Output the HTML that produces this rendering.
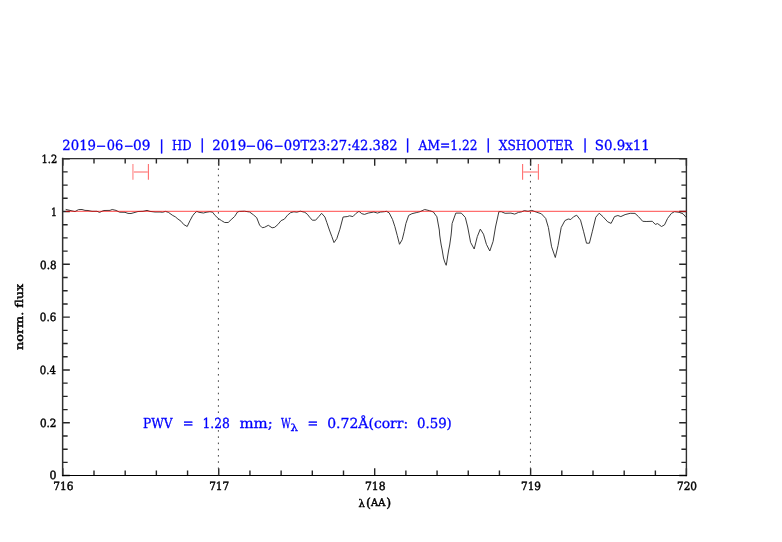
<!DOCTYPE html>
<html><head><meta charset="utf-8"><title>PWV plot</title>
<style>
html,body{margin:0;padding:0;background:#fff;}
body{width:782px;height:542px;overflow:hidden;}
svg{display:block;will-change:transform;}
</style></head>
<body>
<svg width="782" height="542" viewBox="0 0 782 542" text-rendering="geometricPrecision">
<rect width="782" height="542" fill="#fff"/>
<!-- frame + ticks -->
<path d="M62.81 475.5V468.3M62.81 158.6V165.8M94 475.5V470.5M94 158.6V163.6M125.19 475.5V470.5M125.19 158.6V163.6M156.37 475.5V470.5M156.37 158.6V163.6M187.56 475.5V470.5M187.56 158.6V163.6M218.75 475.5V468.3M218.75 158.6V165.8M249.94 475.5V470.5M249.94 158.6V163.6M281.13 475.5V470.5M281.13 158.6V163.6M312.31 475.5V470.5M312.31 158.6V163.6M343.5 475.5V470.5M343.5 158.6V163.6M374.69 475.5V468.3M374.69 158.6V165.8M405.88 475.5V470.5M405.88 158.6V163.6M437.07 475.5V470.5M437.07 158.6V163.6M468.25 475.5V470.5M468.25 158.6V163.6M499.44 475.5V470.5M499.44 158.6V163.6M530.63 475.5V468.3M530.63 158.6V165.8M561.82 475.5V470.5M561.82 158.6V163.6M593.01 475.5V470.5M593.01 158.6V163.6M624.19 475.5V470.5M624.19 158.6V163.6M655.38 475.5V470.5M655.38 158.6V163.6M686.4 475.5V468.3M686.4 158.6V165.8M62.65 475.5H69.85M686.4 475.5H679.2M62.65 462.4H67.65M686.4 462.4H681.4M62.65 449.19H67.65M686.4 449.19H681.4M62.65 435.99H67.65M686.4 435.99H681.4M62.65 422.78H69.85M686.4 422.78H679.2M62.65 409.58H67.65M686.4 409.58H681.4M62.65 396.37H67.65M686.4 396.37H681.4M62.65 383.17H67.65M686.4 383.17H681.4M62.65 369.96H69.85M686.4 369.96H679.2M62.65 356.75H67.65M686.4 356.75H681.4M62.65 343.55H67.65M686.4 343.55H681.4M62.65 330.35H67.65M686.4 330.35H681.4M62.65 317.14H69.85M686.4 317.14H679.2M62.65 303.94H67.65M686.4 303.94H681.4M62.65 290.73H67.65M686.4 290.73H681.4M62.65 277.52H67.65M686.4 277.52H681.4M62.65 264.32H69.85M686.4 264.32H679.2M62.65 251.11H67.65M686.4 251.11H681.4M62.65 237.91H67.65M686.4 237.91H681.4M62.65 224.7H67.65M686.4 224.7H681.4M62.65 211.5H69.85M686.4 211.5H679.2M62.65 198.29H67.65M686.4 198.29H681.4M62.65 185.09H67.65M686.4 185.09H681.4M62.65 171.88H67.65M686.4 171.88H681.4M62.65 158.68H69.85M686.4 158.68H679.2" stroke="#262626" stroke-width="1.4" fill="none"/>
<g fill="none" stroke-linecap="square">
<path d="M62.65 158.6H686.4" stroke="#303030" stroke-width="1.4"/>
<path d="M62.65 158.6V475.5" stroke="#303030" stroke-width="1.5"/>
<path d="M686.4 158.6V475.5" stroke="#303030" stroke-width="1.4"/>
<path d="M62.65 475.5H686.4" stroke="#000" stroke-width="1.2"/>
</g>
<!-- dotted reference lines -->
<path d="M218.4 158.6V475.5M530.45 158.6V475.5" stroke="#444" stroke-width="1" stroke-dasharray="1.6 4.63" stroke-dashoffset="-3.6" fill="none"/>
<!-- spectrum -->
<polyline points="65.7,209.4 70,210.4 75,211.6 78.5,209.6 82,209.5 85,210.4 88,210.5 92,211.3 97,211.3 99.6,212.4 102,211.2 104,210.5 110,210.4 112.2,209.5 116,210.4 119.6,212.2 125,212.3 128,213.4 131,213.5 135,212.4 138,211.5 143,211.3 147,210.4 150,211.4 155,212 160,212 162.6,212.3 165.4,211.4 168.3,212.3 172.8,215.5 175.3,216.8 177.9,219 181.1,221.3 183.7,224.5 187.2,226.5 190,220.6 192.6,215.8 194.8,213 196.8,211.4 199,212.3 203.5,213 206,212.3 209.9,211.7 212.6,212.2 215.1,215.5 218.3,218.4 221.5,220.6 224.7,222.5 228.2,222.5 231.1,219.7 234.6,216.5 237.5,212 239.4,211.4 244.5,211.2 249.6,212 253.5,214.9 256.7,217.7 259.6,225.1 262.2,227.7 264.5,227.3 268.3,225.3 272.1,227.8 274.7,227.3 277.9,224.5 281.1,220.6 284.3,219.2 287.5,215.2 290.7,212.6 293.9,211.8 296.8,212.2 300.3,211.2 304.8,212.3 307.3,214.2 309.6,217.1 312.3,220.2 315.6,220.2 318.8,216.6 321.6,213.3 324.9,217 326.9,222.7 329.4,230 331.8,236.5 334,242.6 336.8,238.6 339.9,229.2 343.1,217 347.2,216.6 349.6,215.8 352.9,216.6 356.1,213.3 359,211.3 361.8,213.7 364.5,214.4 368.1,213.1 373.8,212 377.5,213.1 380.3,212.1 384.4,211.7 386.4,211.3 389.2,212.9 392.5,219.4 394.9,226.7 397.3,235.7 399.5,244.3 402.2,239.7 404.2,231.6 405.9,223.5 408.7,215.4 411.9,213.7 416.8,212.5 420,211.7 424.7,209.5 429.6,210.7 433.3,211.9 436.9,216.8 439.3,230 439.7,235 440.4,240 441.2,245 442.2,250 443.5,258 444.8,262.2 446.2,265.3 446.8,262 447.7,256 448.7,250 449.7,245 450.4,240 451.1,235 451.6,230 452.1,223.5 455.8,213.1 461.3,213.1 465.3,217.4 467.7,227 470.6,242.4 474.2,249 477.3,236.6 480.3,229.1 483.5,234.2 486.4,244.3 489.8,251 493.1,241.4 495.5,227 498.9,211.7 501.3,211.7 505.1,213.3 510.9,213.1 514.7,214.1 518.5,212.4 521.4,211.9 524.3,210.6 528,211.3 531.8,210.4 536.1,212 541.4,213.8 545.7,218.4 548.4,227.5 551.6,246.8 555.3,257.5 558,245.7 561.2,227.5 564.9,220.6 568.2,219 570.8,219.5 573.5,216.8 576.7,215.2 580.5,220.1 583.5,231.2 586.5,243.2 589.4,243.2 592.4,231.2 595.8,217.2 599.2,213.2 603,216.7 607.7,221.8 611.1,223.4 614.5,216.6 617.9,215.5 620.8,216.6 625.1,214.6 630.2,213.3 635,213.4 638.4,216.5 642.7,221.3 646.1,221.5 652.3,221.3 655.3,224.4 657.6,223.6 661.5,226.5 664.5,224.9 667.6,218.4 671.4,213.4 674.5,211.7 679.1,212.3 683,213.8 686.4,217.7" stroke="#303030" stroke-width="0.95" fill="none" stroke-linejoin="round"/>
<!-- unity line -->
<path d="M65.7 211.45H686.4" stroke="#ff0000" stroke-opacity="0.57" stroke-width="1.3" fill="none"/>
<!-- red markers -->
<g fill="none">
<path d="M132.9 164.1V179.8" stroke="#ffaaaa" stroke-width="1.6"/>
<path d="M148.4 164.1V179.8M522.6 164.1V179.8M538.4 164.1V179.8" stroke="#ff6e6e" stroke-width="1.1"/>
<path d="M133.6 172H147.9M523.1 172H537.9" stroke="#ffb0b0" stroke-width="1.8"/>
</g>
<g font-family="&quot;DejaVu Serif&quot;, &quot;Liberation Serif&quot;, serif">
<text x="62.34" y="150.30" font-size="13.80px" fill="#0000ff" textLength="33.74" lengthAdjust="spacingAndGlyphs" stroke="#0000ff" stroke-width="0.3">2019</text><text x="95.90" y="149.94" font-size="13.80px" fill="#0000ff" textLength="10.16" lengthAdjust="spacingAndGlyphs" stroke="#0000ff" stroke-width="0.3">-</text><text x="106.65" y="150.30" font-size="13.80px" fill="#0000ff" textLength="16.48" lengthAdjust="spacingAndGlyphs" stroke="#0000ff" stroke-width="0.3">06</text><text x="123.93" y="149.94" font-size="13.80px" fill="#0000ff" textLength="9.48" lengthAdjust="spacingAndGlyphs" stroke="#0000ff" stroke-width="0.3">-</text><text x="133.05" y="150.30" font-size="13.80px" fill="#0000ff" textLength="17.45" lengthAdjust="spacingAndGlyphs" stroke="#0000ff" stroke-width="0.3">09</text>
<text x="159.21" y="149.53" font-size="13.80px" fill="#0000ff" stroke="#0000ff" stroke-width="0.3">|</text>
<text x="172.06" y="150.30" font-size="13.80px" fill="#0000ff" textLength="19.48" lengthAdjust="spacingAndGlyphs" stroke="#0000ff" stroke-width="0.3">HD</text>
<text x="199.94" y="149.30" font-size="13.80px" fill="#0000ff" stroke="#0000ff" stroke-width="0.3">|</text>
<text x="212.27" y="150.30" font-size="13.80px" fill="#0000ff" textLength="34.07" lengthAdjust="spacingAndGlyphs" stroke="#0000ff" stroke-width="0.3">2019</text><text x="245.78" y="149.94" font-size="13.80px" fill="#0000ff" textLength="10.31" lengthAdjust="spacingAndGlyphs" stroke="#0000ff" stroke-width="0.3">-</text><text x="256.41" y="150.30" font-size="13.80px" fill="#0000ff" textLength="16.92" lengthAdjust="spacingAndGlyphs" stroke="#0000ff" stroke-width="0.3">06</text><text x="273.69" y="149.94" font-size="13.80px" fill="#0000ff" textLength="9.74" lengthAdjust="spacingAndGlyphs" stroke="#0000ff" stroke-width="0.3">-</text><text x="283.78" y="150.30" font-size="13.80px" fill="#0000ff" textLength="113.97" lengthAdjust="spacingAndGlyphs" stroke="#0000ff" stroke-width="0.3">09T23:27:42.382</text>
<text x="405.18" y="149.43" font-size="13.80px" fill="#0000ff" stroke="#0000ff" stroke-width="0.3">|</text>
<text x="418.59" y="150.30" font-size="13.80px" fill="#0000ff" textLength="58.88" lengthAdjust="spacingAndGlyphs" stroke="#0000ff" stroke-width="0.3">AM=1.22</text>
<text x="485.94" y="149.30" font-size="13.80px" fill="#0000ff" stroke="#0000ff" stroke-width="0.3">|</text>
<text x="498.75" y="150.30" font-size="13.80px" fill="#0000ff" textLength="74.23" lengthAdjust="spacingAndGlyphs" stroke="#0000ff" stroke-width="0.3">XSHOOTER</text>
<text x="582.87" y="149.33" font-size="13.80px" fill="#0000ff" stroke="#0000ff" stroke-width="0.3">|</text>
<text x="594.78" y="150.30" font-size="13.80px" fill="#0000ff" textLength="54.96" lengthAdjust="spacingAndGlyphs" stroke="#0000ff" stroke-width="0.3">S0.9x11</text>
<text x="142.92" y="427.50" font-size="13.80px" fill="#0000ff" textLength="29.61" lengthAdjust="spacingAndGlyphs" stroke="#0000ff" stroke-width="0.3">PWV</text>
<text x="182.69" y="427.50" font-size="13.80px" fill="#0000ff" textLength="10.85" lengthAdjust="spacingAndGlyphs" stroke="#0000ff" stroke-width="0.3">=</text>
<text x="202.49" y="427.50" font-size="13.80px" fill="#0000ff" textLength="27.47" lengthAdjust="spacingAndGlyphs" stroke="#0000ff" stroke-width="0.3">1.28</text>
<text x="239.43" y="427.50" font-size="13.80px" fill="#0000ff" textLength="33.41" lengthAdjust="spacingAndGlyphs" stroke="#0000ff" stroke-width="0.3">mm;</text>
<text x="280.96" y="427.50" font-size="13.80px" fill="#0000ff" textLength="9.77" lengthAdjust="spacingAndGlyphs" stroke="#0000ff" stroke-width="0.3">W</text><text x="290.60" y="431.01" font-size="9.70px" fill="#0000ff" textLength="7.49" lengthAdjust="spacingAndGlyphs" stroke="#0000ff" stroke-width="0.3">λ</text>
<text x="307.51" y="427.50" font-size="13.80px" fill="#0000ff" textLength="10.71" lengthAdjust="spacingAndGlyphs" stroke="#0000ff" stroke-width="0.3">=</text>
<text x="327.23" y="427.50" font-size="13.80px" fill="#0000ff" textLength="80.98" lengthAdjust="spacingAndGlyphs" stroke="#0000ff" stroke-width="0.3">0.72Å(corr:</text>
<text x="416.95" y="427.50" font-size="13.80px" fill="#0000ff" textLength="34.87" lengthAdjust="spacingAndGlyphs" stroke="#0000ff" stroke-width="0.3">0.59)</text>
<text x="41.55" y="162.71" font-size="11.30px" fill="#000000" textLength="15.65" lengthAdjust="spacingAndGlyphs" stroke="#000000" stroke-width="0.45">1.2</text>
<text x="50.89" y="216.29" font-size="11.30px" fill="#000000" textLength="5.92" lengthAdjust="spacingAndGlyphs" stroke="#000000" stroke-width="0.45">1</text>
<text x="40.07" y="268.55" font-size="11.30px" fill="#000000" textLength="16.49" lengthAdjust="spacingAndGlyphs" stroke="#000000" stroke-width="0.45">0.8</text>
<text x="39.87" y="321.20" font-size="11.30px" fill="#000000" textLength="16.44" lengthAdjust="spacingAndGlyphs" stroke="#000000" stroke-width="0.45">0.6</text>
<text x="39.85" y="374.26" font-size="11.30px" fill="#000000" textLength="16.14" lengthAdjust="spacingAndGlyphs" stroke="#000000" stroke-width="0.45">0.4</text>
<text x="39.89" y="426.69" font-size="11.30px" fill="#000000" textLength="16.62" lengthAdjust="spacingAndGlyphs" stroke="#000000" stroke-width="0.45">0.2</text>
<text x="49.40" y="479.38" font-size="11.30px" fill="#000000" textLength="6.96" lengthAdjust="spacingAndGlyphs" stroke="#000000" stroke-width="0.45">0</text>
<text x="53.14" y="490.40" font-size="11.30px" fill="#000000" textLength="20.25" lengthAdjust="spacingAndGlyphs" stroke="#000000" stroke-width="0.45">716</text>
<text x="209.16" y="490.40" font-size="11.30px" fill="#000000" textLength="20.08" lengthAdjust="spacingAndGlyphs" stroke="#000000" stroke-width="0.45">717</text>
<text x="364.90" y="490.40" font-size="11.30px" fill="#000000" textLength="20.65" lengthAdjust="spacingAndGlyphs" stroke="#000000" stroke-width="0.45">718</text>
<text x="520.97" y="490.40" font-size="11.30px" fill="#000000" textLength="20.02" lengthAdjust="spacingAndGlyphs" stroke="#000000" stroke-width="0.45">719</text>
<text x="677.00" y="490.40" font-size="11.30px" fill="#000000" textLength="20.03" lengthAdjust="spacingAndGlyphs" stroke="#000000" stroke-width="0.45">720</text>
<text x="358.42" y="506.88" font-size="10.60px" fill="#000000" textLength="6.36" lengthAdjust="spacingAndGlyphs" stroke="#000000" stroke-width="0.45">λ</text><text x="366.05" y="507.27" font-size="12.60px" fill="#000000" stroke="#000000" stroke-width="0.45">(</text><text x="371.08" y="506.36" font-size="10.60px" fill="#000000" textLength="14.32" lengthAdjust="spacingAndGlyphs" stroke="#000000" stroke-width="0.45">AA</text><text x="386.32" y="507.12" font-size="12.60px" fill="#000000" stroke="#000000" stroke-width="0.45">)</text>
<text transform="translate(23.30 316.88) rotate(-90)" text-anchor="middle" font-size="10.78px" fill="#000" stroke="#000" stroke-width="0.45" textLength="66.37" lengthAdjust="spacingAndGlyphs">norm. flux</text>
</g>
</svg>
</body></html>
